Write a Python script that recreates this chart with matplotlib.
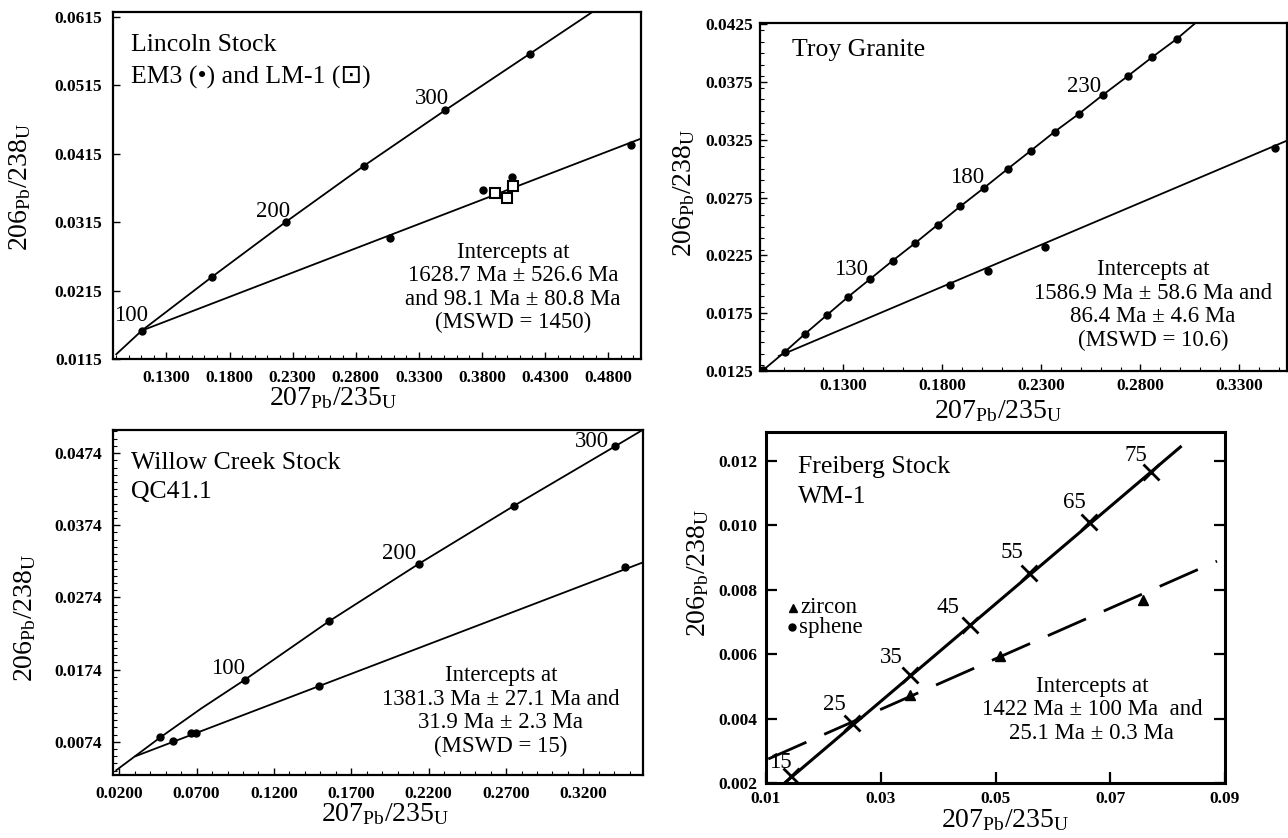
import matplotlib
matplotlib.use('Agg')
import numpy as np
import matplotlib.pyplot as plt
from matplotlib.ticker import FormatStrFormatter, MultipleLocator, FixedLocator

# ---------------- data ----------------
# Lincoln Stock
lin_conc_x = [0.0903, 0.1105, 0.1665, 0.2244, 0.2863, 0.3508, 0.4182, 0.4675]
lin_conc_y = [0.0122, 0.01565, 0.02355, 0.0315, 0.0397, 0.04784, 0.05613, 0.0622]
lin_conc_pts_x = [0.1105, 0.1665, 0.2244, 0.2863, 0.3508, 0.4182]
lin_conc_pts_y = [0.01565, 0.02355, 0.0315, 0.0397, 0.04784, 0.05613]
lin_disc_x = [0.1105, 0.506]
lin_disc_y = [0.01565, 0.0437]
lin_em3_x = [0.3075, 0.3807, 0.4038, 0.498]
lin_em3_y = [0.0292, 0.03623, 0.03809, 0.0427]
lin_lm1_x = [0.3906, 0.3999, 0.4049]
lin_lm1_y = [0.03574, 0.03506, 0.03672]
lin_age_labels = ['100', '200', '300']
lin_age_x = [0.1023, 0.2147, 0.3400]
lin_age_y = [0.01784, 0.03311, 0.04955]
lin_xticks = [0.13, 0.18, 0.23, 0.28, 0.33, 0.38, 0.43, 0.48]
lin_yticks = [0.0115, 0.0215, 0.0315, 0.0415, 0.0515, 0.0615]

# Troy Granite
troy_conc_x = [0.0895, 0.1005, 0.1109, 0.1217, 0.1325, 0.1435, 0.1549, 0.1663, 0.1777, 0.1891,
               0.2010, 0.2130, 0.2248, 0.2368, 0.2489, 0.2611, 0.2736, 0.2860, 0.2985, 0.3074]
troy_conc_y = [0.01256, 0.01415, 0.01574, 0.01733, 0.01892, 0.02045, 0.02204, 0.02357, 0.02516, 0.02675,
               0.02834, 0.02999, 0.03158, 0.03322, 0.03475, 0.03640, 0.03802, 0.03967, 0.04126, 0.04256]
troy_disc_x = [0.0975, 0.354]
troy_disc_y = [0.0138, 0.03244]
troy_pts_x = [0.1839, 0.2032, 0.2317, 0.3478]
troy_pts_y = [0.01996, 0.02117, 0.02325, 0.03181]
troy_age_labels = ['130', '180', '230']
troy_age_x = [0.1341, 0.1927, 0.2518]
troy_age_y = [0.02131, 0.02926, 0.03712]
troy_xticks = [0.13, 0.18, 0.23, 0.28, 0.33]
troy_yticks = [0.0125, 0.0175, 0.0225, 0.0275, 0.0325, 0.0375, 0.0425]

# Willow Creek Stock
wil_conc_x = [0.0181, 0.0465, 0.0731, 0.1010, 0.1554, 0.2138, 0.2754, 0.3407, 0.3571]
wil_conc_y = [0.00346, 0.0080, 0.01203, 0.01597, 0.02407, 0.03208, 0.04013, 0.04837, 0.05046]
wil_conc_pts_x = [0.0465, 0.1010, 0.1554, 0.2138, 0.2754, 0.3407]
wil_conc_pts_y = [0.0080, 0.01597, 0.02407, 0.03208, 0.04013, 0.04837]
wil_disc_x = [0.0306, 0.3585]
wil_disc_y = [0.00541, 0.03226]
wil_pts_x = [0.0550, 0.0665, 0.0699, 0.1488, 0.3471]
wil_pts_y = [0.00754, 0.00856, 0.00856, 0.01513, 0.03161]
wil_age_labels = ['100', '200', '300']
wil_age_x = [0.0903, 0.2010, 0.3253]
wil_age_y = [0.01759, 0.03346, 0.04907]
wil_xticks = [0.02, 0.07, 0.12, 0.17, 0.22, 0.27, 0.32]
wil_yticks = [0.0074, 0.0174, 0.0274, 0.0374, 0.0474]

# Freiberg Stock
fre_conc_x = [0.01324, 0.08243]
fre_conc_y = [0.002, 0.012466]
fre_age_x = [0.01433, 0.02492, 0.03508, 0.04553, 0.05577, 0.06622, 0.07718]
fre_age_y = [0.002207, 0.003865, 0.005368, 0.006922, 0.008508, 0.010104, 0.011658]
fre_age_labels = ['15', '25', '35', '45', '55', '65', '75']
fre_lab_x = [0.01252, 0.0219, 0.03184, 0.04171, 0.05288, 0.06369, 0.0745]
fre_lab_y = [0.002622, 0.004435, 0.005886, 0.00744, 0.00915, 0.0107, 0.01216]
fre_disc_x = [0.0104, 0.0886]
fre_disc_y = [0.002746, 0.00889]
fre_zir_x = [0.0351, 0.0507, 0.0757]
fre_zir_y = [0.004746, 0.005938, 0.007668]
fre_xticks = [0.01, 0.03, 0.05, 0.07, 0.09]
fre_yticks = [0.002, 0.004, 0.006, 0.008, 0.010, 0.012]

# ---------------- style ----------------
plt.rcParams['font.family'] = ['Liberation Serif', 'DejaVu Sans']
plt.rcParams['mathtext.fontset'] = 'custom'
plt.rcParams['mathtext.rm'] = 'Liberation Serif'
plt.rcParams['mathtext.it'] = 'Liberation Serif:italic'
plt.rcParams['mathtext.bf'] = 'Liberation Serif:bold'

W, H = 1288, 838
fig = plt.figure(figsize=(W / 100, H / 100), dpi=100)


def box(l, t, r, b):
    return [l / W, 1 - b / H, (r - l) / W, (b - t) / H]


XLAB = r'$207_{\mathrm{Pb}}/235_{\mathrm{U}}$'
YLAB = r'$206_{\mathrm{Pb}}/238_{\mathrm{U}}$'
TXT = 16.5
TTL = 18.5
LAB = 20
TICK = 12.5
LS = 1.15
LC = 'black'


def style(ax, xlim, ylim, xt, yt, xf, yf, spine_lw=1.6, xpad=8, ypad=8):
    ax.set_xlim(xlim)
    ax.set_ylim(ylim)
    ax.set_xticks(xt)
    ax.set_yticks(yt)
    ax.xaxis.set_major_formatter(FormatStrFormatter(xf))
    ax.yaxis.set_major_formatter(FormatStrFormatter(yf))
    for s in ax.spines.values():
        s.set_linewidth(spine_lw)
    ax.tick_params(axis='x', which='major', direction='in', length=5, width=1, labelsize=TICK, pad=xpad)
    ax.tick_params(axis='y', which='major', direction='in', length=5, width=1, labelsize=TICK, pad=ypad)
    ax.tick_params(which='minor', direction='in', length=3, width=0.8)
    for lab in ax.get_xticklabels() + ax.get_yticklabels():
        lab.set_fontweight('bold')


# ---- Panel 1: Lincoln Stock ----
ax1 = fig.add_axes(box(113, 12, 641, 359))
ax1.plot(lin_conc_x, lin_conc_y, color=LC, lw=1.3)
ax1.plot(lin_disc_x, lin_disc_y, color=LC, lw=1.3)
ax1.plot(lin_conc_pts_x, lin_conc_pts_y, 'o', color=LC, ms=5)
ax1.plot(lin_em3_x, lin_em3_y, 'o', color=LC, ms=5)
ax1.plot(lin_lm1_x, lin_lm1_y, 's', mfc='white', mec=LC, mew=1.5, ms=7)
for t, x, y in zip(lin_age_labels, lin_age_x, lin_age_y):
    ax1.text(x, y, t, fontsize=TXT, ha='center', va='center')
style(ax1, (0.0877, 0.506), (0.0115, 0.0622), lin_xticks, lin_yticks, '%.4f', '%.4f', ypad=8)
ax1.xaxis.set_minor_locator(MultipleLocator(0.01))
ax1.text(0.034, 0.905, 'Lincoln Stock', transform=ax1.transAxes, fontsize=TTL, va='center')
ax1.text(0.034, 0.810, 'EM3 (•) and LM-1 (⊡)', transform=ax1.transAxes, fontsize=TTL, va='center')
ax1.text(0.758, 0.206, 'Intercepts at\n1628.7 Ma ± 526.6 Ma\nand 98.1 Ma ± 80.8 Ma\n(MSWD = 1450)',
         transform=ax1.transAxes, fontsize=TXT, ha='center', va='center', linespacing=LS)
fig.text(20 / W, 1 - 187 / H, YLAB, rotation=90, fontsize=LAB, ha='center', va='center')
fig.text(333 / W, 1 - 385 / H, XLAB, fontsize=LAB, ha='center', va='top')

# ---- Panel 2: Troy Granite ----
ax2 = fig.add_axes(box(760, 23, 1287, 371))
ax2.plot(troy_conc_x, troy_conc_y, color=LC, lw=1.3)
ax2.plot(troy_conc_x[:-1], troy_conc_y[:-1], 'o', color=LC, ms=5)
ax2.plot(troy_disc_x, troy_disc_y, color=LC, lw=1.3)
ax2.plot(troy_pts_x, troy_pts_y, 'o', color=LC, ms=5)
for t, x, y in zip(troy_age_labels, troy_age_x, troy_age_y):
    ax2.text(x, y, t, fontsize=TXT, ha='center', va='center')
style(ax2, (0.088, 0.354), (0.0125, 0.04262), troy_xticks, troy_yticks, '%.4f', '%.4f', xpad=5, ypad=5)
ax2.xaxis.set_minor_locator(MultipleLocator(0.01))
ax2.yaxis.set_minor_locator(MultipleLocator(0.001))
ax2.text(0.061, 0.922, 'Troy Granite', transform=ax2.transAxes, fontsize=TTL, va='center')
ax2.text(0.746, 0.19, 'Intercepts at\n1586.9 Ma ± 58.6 Ma and\n86.4 Ma ± 4.6 Ma\n(MSWD = 10.6)',
         transform=ax2.transAxes, fontsize=TXT, ha='center', va='center', linespacing=LS)
fig.text(684 / W, 1 - 193 / H, YLAB, rotation=90, fontsize=LAB, ha='center', va='center')
fig.text(998 / W, 1 - 398 / H, XLAB, fontsize=LAB, ha='center', va='top')

# ---- Panel 3: Willow Creek Stock ----
ax3 = fig.add_axes(box(113, 430, 643, 775))
ax3.plot(wil_conc_x, wil_conc_y, color=LC, lw=1.3)
ax3.plot(wil_conc_pts_x, wil_conc_pts_y, 'o', color=LC, ms=5)
ax3.plot(wil_disc_x, wil_disc_y, color=LC, lw=1.3)
ax3.plot(wil_pts_x, wil_pts_y, 'o', color=LC, ms=5)
for t, x, y in zip(wil_age_labels, wil_age_x, wil_age_y):
    ax3.text(x, y, t, fontsize=TXT, ha='center', va='center')
style(ax3, (0.016, 0.3585), (0.0028, 0.0506), wil_xticks, wil_yticks, '%.4f', '%.4f', ypad=8)
ax3.xaxis.set_minor_locator(MultipleLocator(0.01))
ax3.yaxis.set_minor_locator(FixedLocator(np.arange(0.0034, 0.0506, 0.001)))
ax3.text(0.034, 0.904, 'Willow Creek Stock', transform=ax3.transAxes, fontsize=TTL, va='center')
ax3.text(0.034, 0.820, 'QC41.1', transform=ax3.transAxes, fontsize=TTL, va='center')
ax3.text(0.732, 0.185, 'Intercepts at\n1381.3 Ma ± 27.1 Ma and\n31.9 Ma ± 2.3 Ma\n(MSWD = 15)',
         transform=ax3.transAxes, fontsize=TXT, ha='center', va='center', linespacing=LS)
fig.text(25 / W, 1 - 618 / H, YLAB, rotation=90, fontsize=LAB, ha='center', va='center')
fig.text(385 / W, 1 - 801 / H, XLAB, fontsize=LAB, ha='center', va='top')

# ---- Panel 4: Freiberg Stock ----
ax4 = fig.add_axes(box(766, 432, 1225, 783))
ax4.plot(fre_conc_x, fre_conc_y, color=LC, lw=2.2, solid_capstyle='butt')
ax4.plot(fre_age_x, fre_age_y, 'x', color=LC, ms=11, mew=2)
ax4.plot(fre_disc_x, fre_disc_y, color=LC, lw=2, dashes=(15, 7))
ax4.plot(fre_zir_x, fre_zir_y, '^', color=LC, ms=7)
for t, x, y in zip(fre_age_labels, fre_lab_x, fre_lab_y):
    ax4.text(x, y, t, fontsize=TXT, ha='center', va='center')
style(ax4, (0.01, 0.09), (0.002, 0.0129), fre_xticks, fre_yticks, '%.2f', '%.3f', spine_lw=2.2, xpad=6, ypad=6)
ax4.tick_params(axis='y', which='major', right=True, length=8, width=1.6)
ax4.tick_params(axis='x', which='major', length=8, width=1.6)
ax4.text(0.07, 0.90, 'Freiberg Stock', transform=ax4.transAxes, fontsize=TTL, va='center')
ax4.text(0.07, 0.815, 'WM-1', transform=ax4.transAxes, fontsize=TTL, va='center')
ax4.plot([0.059], [0.499], '^', color=LC, ms=6, transform=ax4.transAxes, clip_on=False)
ax4.plot([0.057], [0.444], 'o', color=LC, ms=5, transform=ax4.transAxes, clip_on=False)
ax4.text(0.075, 0.499, 'zircon', transform=ax4.transAxes, fontsize=TXT, va='center')
ax4.text(0.071, 0.444, 'sphene', transform=ax4.transAxes, fontsize=TXT, va='center')
ax4.text(0.71, 0.208, 'Intercepts at\n1422 Ma ± 100 Ma  and\n25.1 Ma ± 0.3 Ma',
         transform=ax4.transAxes, fontsize=TXT, ha='center', va='center', linespacing=LS)
fig.text(698 / W, 1 - 573 / H, YLAB, rotation=90, fontsize=LAB, ha='center', va='center')
fig.text(1005 / W, 1 - 807 / H, XLAB, fontsize=LAB, ha='center', va='top')

fig.savefig('out.png', dpi=100)
